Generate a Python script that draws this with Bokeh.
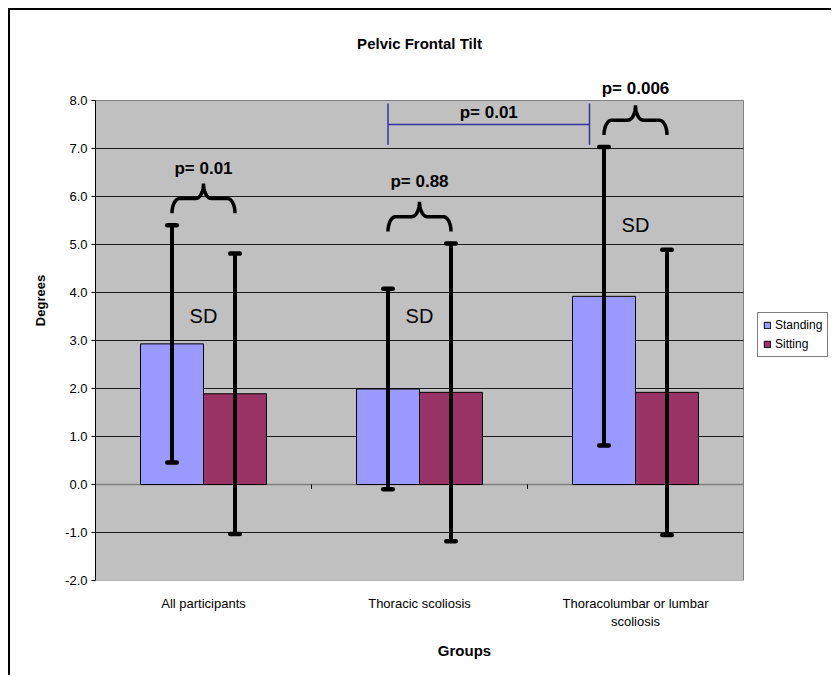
import numpy as np
from bokeh.plotting import figure
from bokeh.models import (Range1d, FixedTicker, PrintfTickFormatter, Label, Legend,
                          LegendItem)
from bokeh.embed import file_html
from bokeh.resources import INLINE

# ---------------- data ----------------
groups = ["All participants", "Thoracic scoliosis", "Thoracolumbar or lumbar\nscoliosis"]
standing = [2.93, 1.99, 3.92]
standing_sd = [2.47, 2.09, 3.11]
sitting = [1.89, 1.92, 1.92]
sitting_sd = [2.92, 3.10, 2.97]
p_within = ["p= 0.01", "p= 0.88", "p= 0.006"]
p_within_label_y = [6.58, 6.31, 8.25]
p_between = "p= 0.01"
sd_label_y = [3.52, 3.52, 5.40]
y_ticks = [-2, -1, 0, 1, 2, 3, 4, 5, 6, 7, 8]
Y_MIN, Y_MAX = -2, 8

FONT = "Liberation Sans"
BAR_W = 0.2917
STAND_C = "#9999FF"
SIT_C = "#993366"
BLACK = "#000000"

# layout in pixels (canvas)
CANVAS_W, CANVAS_H = 823, 667
LEFT, TOP, BOTTOM = 85, 10, 97
FRAME_W = CANVAS_W - LEFT
FRAME_H = CANVAS_H - TOP - BOTTOM
PX_PER_X = 216.0          # one group
PX_PER_Y = 48.0           # one degree
x_end = FRAME_W / PX_PER_X
y_end = Y_MIN + FRAME_H / PX_PER_Y
n = len(groups)

p = figure(width=CANVAS_W, height=CANVAS_H, output_backend="svg", toolbar_location=None,
           x_range=Range1d(0, x_end), y_range=Range1d(Y_MIN, y_end),
           min_border_left=LEFT, min_border_right=0, min_border_top=TOP,
           min_border_bottom=BOTTOM)
p.styles = {"margin-left": "8px", "margin-top": "8px",
            "border-left": "2px solid #000000", "border-top": "2px solid #000000"}

p.background_fill_color = "#FFFFFF"
p.border_fill_color = "#FFFFFF"
p.outline_line_color = None
p.xgrid.visible = False
p.ygrid.visible = False

# plot area
p.quad(left=0, right=n, bottom=Y_MIN, top=Y_MAX, fill_color="#C0C0C0",
       line_color="#808080", line_width=1)
grid_y = [t for t in y_ticks if t not in (Y_MIN, Y_MAX, 0)]
p.segment(x0=[0] * len(grid_y), x1=[n] * len(grid_y), y0=grid_y, y1=grid_y,
          line_color="#1a1a1a", line_width=1)
p.segment(x0=[0], x1=[n], y0=[0], y1=[0], line_color="#808080", line_width=1.5)
seps = list(range(1, n))
p.segment(x0=seps, x1=seps, y0=[0] * len(seps), y1=[-0.09] * len(seps),
          line_color=BLACK, line_width=1)

# title
p.add_layout(Label(x=n / 2, y=Y_MAX + 57 / PX_PER_Y, text="Pelvic Frontal Tilt",
                   text_font=FONT, text_font_size="15px", text_font_style="bold",
                   text_color=BLACK, text_align="center", text_baseline="middle"))

# y axis
p.yaxis.bounds = (Y_MIN, Y_MAX)
p.yaxis.ticker = FixedTicker(ticks=y_ticks)
p.yaxis.formatter = PrintfTickFormatter(format="%.1f")
p.yaxis.axis_label = "Degrees"
p.yaxis.axis_label_text_font = FONT
p.yaxis.axis_label_text_font_size = "13px"
p.yaxis.axis_label_text_font_style = "bold"
p.yaxis.axis_label_text_color = BLACK
p.yaxis.axis_label_standoff = 14
p.yaxis.major_label_text_font = FONT
p.yaxis.major_label_text_font_size = "13px"
p.yaxis.major_label_text_color = BLACK
p.yaxis.major_label_standoff = 4
p.yaxis.major_tick_out = 4
p.yaxis.major_tick_in = 0
p.yaxis.minor_tick_line_color = None
p.yaxis.axis_line_color = BLACK
p.yaxis.major_tick_line_color = BLACK

# x axis
centers = [i + 0.5 for i in range(n)]
p.xaxis.ticker = FixedTicker(ticks=centers)
p.xaxis.major_label_overrides = {c: g for c, g in zip(centers, groups)}
p.xaxis.axis_label = "Groups"
p.xaxis.axis_label_text_font = FONT
p.xaxis.axis_label_text_font_size = "15px"
p.xaxis.axis_label_text_font_style = "bold"
p.xaxis.axis_label_text_color = BLACK
p.xaxis.axis_label_standoff = 10
p.xaxis.major_label_text_font = FONT
p.xaxis.major_label_text_font_size = "13px"
p.xaxis.major_label_text_color = BLACK
p.xaxis.major_label_standoff = 15
p.xaxis.major_tick_out = 0
p.xaxis.major_tick_in = 0
p.xaxis.major_tick_line_color = None
p.xaxis.minor_tick_line_color = None
p.xaxis.axis_line_color = None

# bars
xs_st = [c - BAR_W / 2 for c in centers]
xs_si = [c + BAR_W / 2 for c in centers]
r_st = p.vbar(x=xs_st, top=standing, bottom=0, width=BAR_W, fill_color=STAND_C,
              line_color=BLACK, line_width=1)
r_si = p.vbar(x=xs_si, top=sitting, bottom=0, width=BAR_W, fill_color=SIT_C,
              line_color=BLACK, line_width=1)

# error bars (SD)
CAP = 0.022
for xs, m, s in ((xs_st, standing, standing_sd), (xs_si, sitting, sitting_sd)):
    hi = [a + b for a, b in zip(m, s)]
    lo = [a - b for a, b in zip(m, s)]
    p.segment(x0=xs, x1=xs, y0=lo, y1=hi, line_color=BLACK, line_width=4)
    for yy in (hi, lo):
        p.segment(x0=[x - CAP for x in xs], x1=[x + CAP for x in xs], y0=yy, y1=yy,
                  line_color=BLACK, line_width=4.5, line_cap="round")

# curly braces over each pair
def brace(x0, x1, yb, h, rx=0.036):
    xm = (x0 + x1) / 2
    hh = h / 2
    t = np.linspace(0, np.pi / 2, 14)
    xa = x0 + rx * (1 - np.cos(t)); ya = yb + hh * np.sin(t)
    xb = xm - rx + rx * np.sin(t); yb2 = yb + hh + hh * (1 - np.cos(t))
    lx = np.concatenate([xa, xb]); ly = np.concatenate([ya, yb2])
    return np.concatenate([lx, 2 * xm - lx[::-1]]), np.concatenate([ly, ly[::-1]])

bx, by = [], []
for i in range(n):
    top = max(standing[i] + standing_sd[i], sitting[i] + sitting_sd[i])
    x, y = brace(xs_st[i], xs_si[i], top + 0.25, 0.62)
    bx.append(list(x)); by.append(list(y))
p.multi_line(xs=bx, ys=by, line_color=BLACK, line_width=3.5)

for i, c in enumerate(centers):
    p.add_layout(Label(x=c, y=p_within_label_y[i], text=p_within[i], text_font=FONT,
                       text_font_size="17px", text_font_style="bold", text_color=BLACK,
                       text_align="center", text_baseline="middle"))
    p.add_layout(Label(x=c, y=sd_label_y[i], text="SD", text_font=FONT,
                       text_font_size="20px", text_color=BLACK, text_align="center",
                       text_baseline="middle"))

# between-group comparison bracket (standing: thoracic vs thoracolumbar)
bl = xs_st[1]
br = centers[2] - 0.213
p.segment(x0=[bl, bl, br], x1=[br, bl, br], y0=[7.5, 7.08, 7.08], y1=[7.5, 7.94, 7.94],
          line_color="#3333A0", line_width=1.5)
p.add_layout(Label(x=(bl + br) / 2, y=7.75, text=p_between, text_font=FONT,
                   text_font_size="17px", text_font_style="bold", text_color=BLACK,
                   text_align="center", text_baseline="middle"))

# legend
legend = Legend(items=[LegendItem(label="Standing", renderers=[r_st]),
                       LegendItem(label="Sitting", renderers=[r_si])],
                location=(662, 223), orientation="vertical")
legend.label_text_font = FONT
legend.label_text_font_size = "12px"
legend.label_text_color = BLACK
legend.glyph_width = 8
legend.glyph_height = 8
legend.label_height = 12
legend.label_standoff = 4
legend.padding = 5
legend.spacing = 5
legend.margin = 0
legend.border_line_color = BLACK
legend.border_line_width = 1
legend.background_fill_color = "#FFFFFF"
legend.background_fill_alpha = 1
p.add_layout(legend)

open("out.html", "w").write(file_html(p, INLINE))
